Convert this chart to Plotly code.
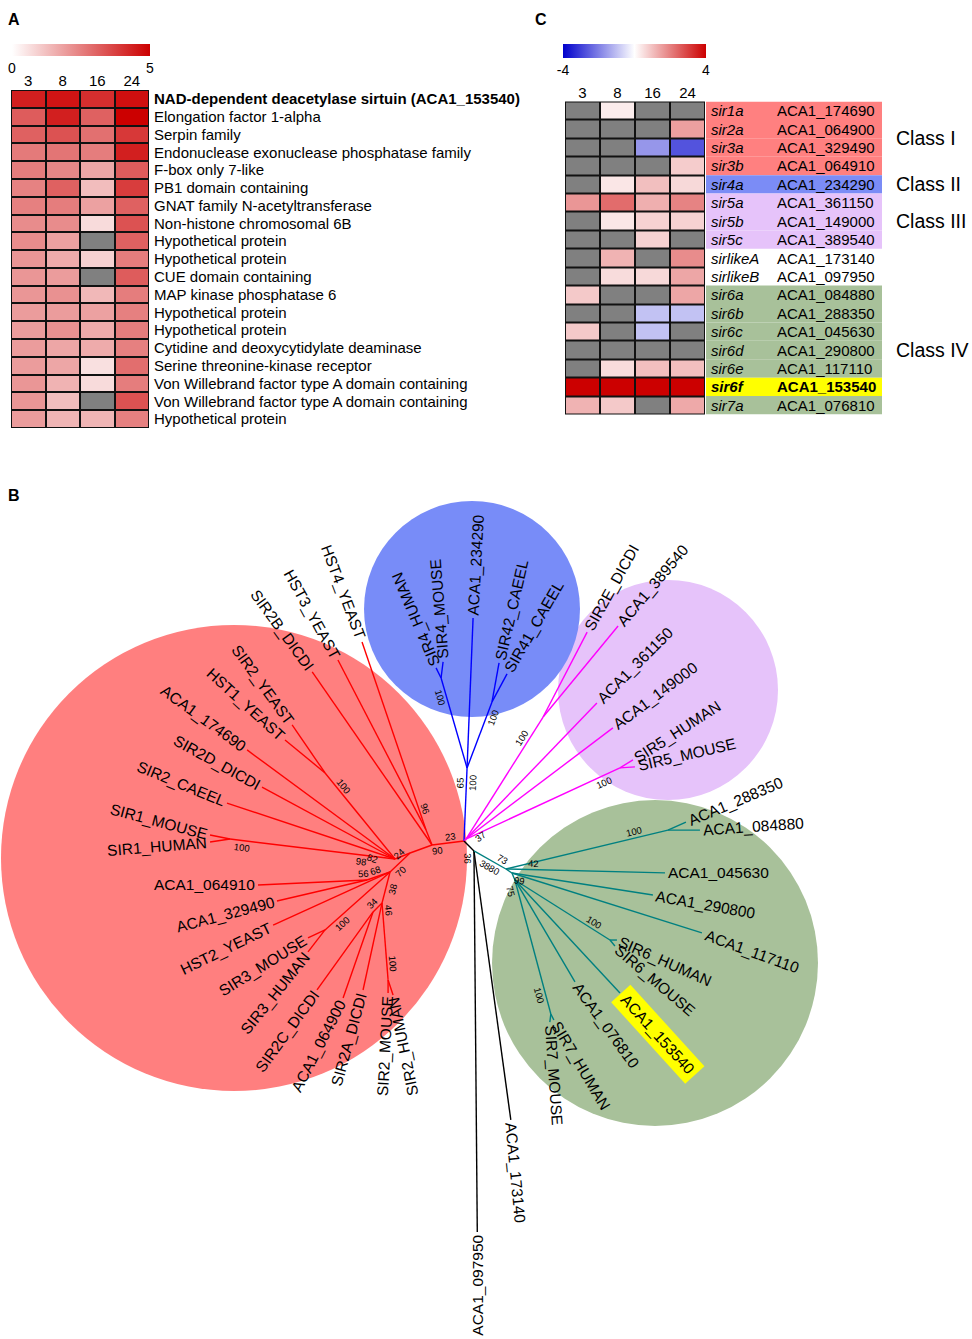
import math
import plotly.graph_objects as go

W, H = 972, 1339
FONT = "Liberation Sans, Arial, sans-serif"

# ---------------- Panel A data ----------------
a_times = ["3", "8", "16", "24"]
a_genes = [
    "NAD-dependent deacetylase sirtuin (ACA1_153540)",
    "Elongation factor 1-alpha",
    "Serpin family",
    "Endonuclease exonuclease phosphatase family",
    "F-box only 7-like",
    "PB1 domain containing",
    "GNAT family N-acetyltransferase",
    "Non-histone chromosomal 6B",
    "Hypothetical protein",
    "Hypothetical protein",
    "CUE domain containing",
    "MAP kinase phosphatase 6",
    "Hypothetical protein",
    "Hypothetical protein",
    "Cytidine and deoxycytidylate deaminase",
    "Serine threonine-kinase receptor",
    "Von Willebrand factor type A domain containing",
    "Von Willebrand factor type A domain containing",
    "Hypothetical protein",
]
a_bold_row = 0
a_values = [
    [4.4, 4.6, 4.1, 4.7],
    [3.2, 4.4, 3.1, 5.0],
    [3.1, 3.4, 2.8, 3.9],
    [2.6, 2.7, 2.55, 4.4],
    [2.55, 2.35, 1.75, 3.2],
    [2.45, 3.1, 1.3, 3.8],
    [2.5, 2.55, 1.85, 3.1],
    [2.25, 2.25, 0.7, 3.4],
    [2.25, 1.85, None, 3.1],
    [2.05, 1.65, 0.9, 2.55],
    [2.05, 1.95, None, 3.2],
    [2.05, 2.15, 1.4, 2.55],
    [1.95, 1.95, 1.85, 2.5],
    [1.95, 2.15, 1.65, 2.55],
    [1.95, 1.75, 1.65, 2.5],
    [1.95, 1.75, 0.6, 2.85],
    [2.05, 1.5, 0.7, 2.55],
    [2.05, 1.3, None, 3.4],
    [1.95, 1.45, 1.45, 2.5],
]
a_range = [0, 5]

# ---------------- Panel C data ----------------
c_times = ["3", "8", "16", "24"]
c_genes = ["sir1a", "sir2a", "sir3a", "sir3b", "sir4a", "sir5a", "sir5b", "sir5c",
           "sirlikeA", "sirlikeB", "sir6a", "sir6b", "sir6c", "sir6d", "sir6e", "sir6f", "sir7a"]
c_ids = ["ACA1_174690", "ACA1_064900", "ACA1_329490", "ACA1_064910", "ACA1_234290",
         "ACA1_361150", "ACA1_149000", "ACA1_389540", "ACA1_173140", "ACA1_097950",
         "ACA1_084880", "ACA1_288350", "ACA1_045630", "ACA1_290800", "ACA1_117110",
         "ACA1_153540", "ACA1_076810"]
c_classes = ["Class I"] * 4 + ["Class II"] + ["Class III"] * 3 + [""] * 2 + ["Class IV"] * 7
c_highlight = "sir6f"
c_values = [
    [None, 0.3, None, None],
    [None, None, None, 1.5],
    [None, None, -1.65, -2.7],
    [None, None, None, 0.8],
    [None, 0.4, 1.0, 0.6],
    [1.65, 2.3, 1.25, 1.95],
    [None, 0.4, 0.7, 0.7],
    [None, None, 0.7, None],
    [None, 1.2, None, 1.8],
    [None, 0.55, 0.6, 1.4],
    [0.85, None, None, 1.4],
    [None, None, -0.95, -0.95],
    [0.85, None, -0.95, None],
    [None, None, None, None],
    [None, 0.55, 1.0, 1.0],
    [4.0, 4.0, 4.0, 4.0],
    [1.2, 0.85, None, 1.35],
]
c_range = [-4, 4]

# ---------------- Panel B data: tree (node, parent, branch length, angle deg) ----------------
tree_edges = [
    ("R0", "O", 32.2, 172.9),
    ("Rh", "R0", 16.2, -111.8),
    ("HST4_YEAST", "Rh", 198.6, -108.8),
    ("HST3_YEAST", "Rh", 191.4, -117.4),
    ("SIR2B_DICDI", "R0", 210.5, -124.7),
    ("R1", "R0", 23.4, 160.0),
    ("Rm", "R1", 16.2, 158.2),
    ("Ny", "Rm", 110.9, -129.1),
    ("SIR2_YEAST", "Ny", 58.2, -124.5),
    ("HST1_YEAST", "Ny", 51.9, -140.5),
    ("ACA1_174690", "Rm", 183.8, -143.6),
    ("SIR2D_DICDI", "Rm", 151.2, -151.6),
    ("SIR2_CAEEL", "Rm", 177.1, -161.6),
    ("N1", "Rm", 166.2, -173.1),
    ("SIR1_MOUSE", "N1", 20.4, -168.7),
    ("SIR1_HUMAN", "N1", 20.2, 171.5),
    ("R2", "R1", 27.6, 136.5),
    ("Na", "R2", 24.4, 160.8),
    ("ACA1_064910", "Na", 109.1, 177.4),
    ("ACA1_329490", "Na", 92.4, 166.9),
    ("HST2_YEAST", "R2", 128.4, 155.6),
    ("N3", "R2", 87.1, 138.3),
    ("SIR3_MOUSE", "N3", 18.8, 154.8),
    ("SIR3_HUMAN", "N3", 27.8, 127.7),
    ("R3", "R2", 32.0, 104.5),
    ("N34", "R3", 12.7, 135.0),
    ("ACA1_064900", "N34", 91.1, 109.2),
    ("SIR2C_DICDI", "N34", 96.0, 125.7),
    ("SIR2A_DICDI", "R3", 89.1, 102.3),
    ("N2", "R3", 77.2, 85.5),
    ("SIR2_MOUSE", "N2", 13.0, 90.0),
    ("SIR2_HUMAN", "N2", 15.8, 71.6),
    ("B1", "O", 73.1, -87.6),
    ("B2", "B1", 93.7, -106.1),
    ("SIR4_HUMAN", "B2", 11.2, -116.6),
    ("SIR4_MOUSE", "B2", 16.1, -82.9),
    ("ACA1_234290", "B1", 150.1, -87.7),
    ("B3", "B1", 70.6, -69.3),
    ("SIR42_CAEEL", "B3", 39.6, -79.8),
    ("SIR41_CAEEL", "B3", 31.8, -61.8),
    ("M0", "O", 2.8, -45.0),
    ("M1", "M0", 144.3, -57.7),
    ("SIR2E_DICDI", "M1", 95.7, -62.6),
    ("ACA1_389540", "M1", 117.9, -50.5),
    ("ACA1_361150", "M0", 188.8, -46.1),
    ("ACA1_149000", "M0", 184.2, -37.1),
    ("M5", "M0", 169.6, -24.8),
    ("SIR5_HUMAN", "M5", 15.3, -31.6),
    ("SIR5_MOUSE", "M5", 15.0, -3.8),
    ("J", "O", 14.1, 45.0),
    ("ACA1_097950", "J", 381.0, 89.5),
    ("ACA1_173140", "J", 271.5, 82.2),
    ("T0", "J", 36.7, 29.4),
    ("N100", "T0", 166.6, -13.5),
    ("ACA1_288350", "N100", 19.7, -24.0),
    ("ACA1_084880", "N100", 32.0, 0.0),
    ("ACA1_045630", "T0", 159.1, 1.4),
    ("T1", "T0", 7.2, 33.7),
    ("ACA1_290800", "T1", 142.7, 8.9),
    ("ACA1_117110", "T1", 199.2, 17.5),
    ("T2", "T1", 7.6, 66.8),
    ("N6", "T2", 112.4, 32.3),
    ("SIR6_HUMAN", "N6", 7.0, 0.0),
    ("SIR6_MOUSE", "N6", 7.8, 50.2),
    ("ACA1_153540", "T2", 154.3, 47.1),
    ("ACA1_076810", "T2", 118.3, 59.5),
    ("N7", "T2", 138.8, 75.0),
    ("SIR7_HUMAN", "N7", 6.7, 63.4),
    ("SIR7_MOUSE", "N7", 8.1, 97.1),
]
# leaf label direction (outward angle, label reads toward the tip)
leaf_labels = {
    "HST4_YEAST": (-110.7, True), "HST3_YEAST": (-118.9, True), "SIR2B_DICDI": (-126, True),
    "SIR2_YEAST": (-126, True), "HST1_YEAST": (-137.8, True), "ACA1_174690": (-144, True),
    "SIR2D_DICDI": (-151, True), "SIR2_CAEEL": (-157.5, True), "SIR1_MOUSE": (-165, True),
    "SIR1_HUMAN": (175.4, True), "ACA1_064910": (180, True), "ACA1_329490": (165.4, True),
    "HST2_YEAST": (154, True), "SIR3_MOUSE": (148, True), "SIR3_HUMAN": (129, True),
    "SIR2C_DICDI": (126, True), "ACA1_064900": (117, True), "SIR2A_DICDI": (105.5, True),
    "SIR2_MOUSE": (93, True), "SIR2_HUMAN": (78.5, True),
    "SIR4_HUMAN": (-113, False), "SIR4_MOUSE": (-94.6, False), "ACA1_234290": (-87, False),
    "SIR42_CAEEL": (-77, False), "SIR41_CAEEL": (-60, False),
    "SIR2E_DICDI": (-61, False), "ACA1_389540": (-50, False), "ACA1_361150": (-45, False),
    "ACA1_149000": (-36.8, False), "SIR5_HUMAN": (-33, False), "SIR5_MOUSE": (-13, False),
    "ACA1_288350": (-23, False), "ACA1_084880": (-4, False), "ACA1_045630": (0, False),
    "ACA1_290800": (10, False), "ACA1_117110": (20, False), "SIR6_HUMAN": (24, False),
    "SIR6_MOUSE": (40.5, False), "ACA1_153540": (47.7, False), "ACA1_076810": (54, False),
    "SIR7_HUMAN": (59.4, False), "SIR7_MOUSE": (86, False),
    "ACA1_173140": (84.5, False), "ACA1_097950": (90, True),
}
tree_highlight = "ACA1_153540"
# bootstrap support (node of edge, value, position along edge, side)
bootstraps = [
    ("N6", "100", 0.8, 1), ("N100", "100", 0.8, 1), ("N7", "100", 0.85, -1),
    ("B2", "100", 0.8, 1), ("B3", "100", 0.8, -1), ("B1", "65", 0.8, 1), ("B1", "100", 0.8, -1),
    ("M1", "100", 0.8, 1), ("M5", "100", 0.88, -1), ("N1", "100", 0.92, 1),
    ("Ny", "100", 0.8, -1), ("N3", "100", 0.8, 1), ("N2", "100", 0.8, 1),
    ("HST4_YEAST", "96", 0.1, -1), ("T0", "73", 0.8, 1), ("T0", "3880", 0.6, -1),
    ("ACA1_045630", "42", 0.17, 1), ("ACA1_290800", "99", 0.06, -1), ("N7", "75", 0.07, -1),
    ("ACA1_149000", "37", 0.07, -1), ("ACA1_097950", "36", 0.02, -1),
    ("R0", "23", 0.4, -1), ("R0", "90", 0.85, 1), ("N1", "98", 0.2, 1),
    ("SIR2_CAEEL", "82", 0.12, 1), ("ACA1_064910", "56", 0.03, -1), ("Na", "68", 0.55, -1),
    ("R2", "24", 0.3, -1), ("R2", "70", 0.7, 1), ("R3", "38", 0.5, 1),
    ("N2", "46", 0.1, 1), ("N34", "34", 0.6, -1),
]

# ---------------- styles ----------------
GRAY = "#808080"
A_SCALE = [[0, "#ffffff"], [1, "#cc0000"]]
C_SCALE = [[0, "#0000cc"], [0.5, "#ffffff"], [1, "#cc0000"]]
CLASS_COLORS = {"Class I": "#ff8080", "Class II": "#7b8cf6", "Class III": "#e6c3fa",
                "Class IV": "#a8c19a", "": "rgba(0,0,0,0)"}
HIGHLIGHT = "#ffff00"
CLADE_ROOTS = {"R0": "#ff0000", "B1": "#0000ff", "M0": "#ff00ff", "T0": "#008080"}
TREE_ORIGIN = (464, 841)
CLADE_DISCS = [  # (cx, cy, r, color) decorative clade background discs
    (234, 858, 233, "#ff7f7f"),
    (668, 690, 110, "#e6c3fa"),
    (655, 963, 163, "#a8c19a"),
    (472, 609, 108, "#788cf8"),
]

ARIAL_W = {c: 667 for c in "ABEKPSVXY"}
ARIAL_W.update({c: 722 for c in "CDHNRUw"})
ARIAL_W.update({"F": 611, "T": 611, "Z": 611, "G": 778, "O": 778, "Q": 778, "I": 278,
                "J": 500, "L": 556, "M": 833, "W": 944, "_": 556})


def text_w(s, size):
    return sum(ARIAL_W.get(ch, 556) for ch in s) / 1000 * size


def px_x(x):
    return x / W


def px_y(y):
    return 1 - y / H


fig = go.Figure()

# ---------- Panel A heatmap ----------
na = len(a_genes)
a_mask = [[1 if v is None else None for v in row] for row in a_values]
fig.add_trace(go.Heatmap(z=a_mask, x=list(range(4)), y=list(range(na)), zmin=0, zmax=1,
                         colorscale=[[0, GRAY], [1, GRAY]], showscale=False, xgap=2, ygap=2,
                         hoverinfo="skip", xaxis="x", yaxis="y"))
fig.add_trace(go.Heatmap(z=a_values, x=list(range(4)), y=list(range(na)), zmin=a_range[0], zmax=a_range[1],
                         colorscale=A_SCALE, xgap=2, ygap=2, xaxis="x", yaxis="y",
                         colorbar=dict(orientation="h", x=px_x(12), xanchor="left", y=px_y(44), yanchor="top",
                                       lenmode="pixels", len=138, thickness=12, xpad=0, ypad=0,
                                       outlinewidth=0, tickvals=a_range, ticktext=[str(v) for v in a_range],
                                       ticks="", tickfont=dict(size=14, family=FONT, color="black"))))

# ---------- Panel C heatmap ----------
nc = len(c_genes)
c_mask = [[1 if v is None else None for v in row] for row in c_values]
fig.add_trace(go.Heatmap(z=c_mask, x=list(range(4)), y=list(range(nc)), zmin=0, zmax=1,
                         colorscale=[[0, GRAY], [1, GRAY]], showscale=False, xgap=2, ygap=2,
                         hoverinfo="skip", xaxis="x2", yaxis="y2"))
fig.add_trace(go.Heatmap(z=c_values, x=list(range(4)), y=list(range(nc)), zmin=c_range[0], zmax=c_range[1],
                         colorscale=C_SCALE, xgap=2, ygap=2, xaxis="x2", yaxis="y2",
                         colorbar=dict(orientation="h", x=px_x(563), xanchor="left", y=px_y(44), yanchor="top",
                                       lenmode="pixels", len=143, thickness=14, xpad=0, ypad=0,
                                       outlinewidth=0, tickvals=c_range, ticktext=[str(v) for v in c_range],
                                       ticks="", tickfont=dict(size=14, family=FONT, color="black"))))

shapes = []
annotations = []
for xr, yr in (("x", "y"), ("x2", "y2")):
    shapes.append(dict(type="rect", xref=f"{xr} domain", yref=f"{yr} domain", x0=0, x1=1, y0=0, y1=1,
                       fillcolor="#111111", line=dict(width=0), layer="below"))

# C label boxes and texts
for i, (g, gid, cls) in enumerate(zip(c_genes, c_ids, c_classes)):
    col = HIGHLIGHT if g == c_highlight else CLASS_COLORS[cls]
    shapes.append(dict(type="rect", xref="paper", yref="y2", x0=px_x(706), x1=px_x(882),
                       y0=i - 0.5, y1=i + 0.5, fillcolor=col, line=dict(width=0), layer="below"))
    b0, b1 = ("<b>", "</b>") if g == c_highlight else ("", "")
    annotations.append(dict(xref="paper", yref="y2", x=px_x(709), y=i, xanchor="left", yanchor="middle",
                            text=f"{b0}<i>{g}</i>{b1}", showarrow=False,
                            font=dict(size=15, family=FONT, color="black")))
    annotations.append(dict(xref="paper", yref="y2", x=px_x(775), y=i, xanchor="left", yanchor="middle",
                            text=f"{b0}{gid}{b1}", showarrow=False,
                            font=dict(size=15, family=FONT, color="black")))
for cls in dict.fromkeys(c_classes):
    if not cls:
        continue
    rows = [i for i, c in enumerate(c_classes) if c == cls]
    annotations.append(dict(xref="paper", yref="y2", x=px_x(894), y=sum(rows) / len(rows),
                            xanchor="left", yanchor="middle", text=cls, showarrow=False,
                            font=dict(size=19.5, family=FONT, color="black")))

# ---------- Panel B tree ----------
pos = {"O": TREE_ORIGIN}
parent_of = {}
angle_of = {}
color_of = {"O": "#000000"}
for node, par, L, ang in tree_edges:
    px, py = pos[par]
    a = math.radians(ang)
    pos[node] = (px + L * math.cos(a), py + L * math.sin(a))
    parent_of[node] = par
    angle_of[node] = ang
    color_of[node] = CLADE_ROOTS.get(node, color_of[par])

for cx, cy, r, col in CLADE_DISCS:
    shapes.append(dict(type="circle", xref="x3", yref="y3", x0=cx - r, x1=cx + r, y0=cy - r, y1=cy + r,
                       fillcolor=col, line=dict(width=0), layer="below"))

segs = {}
for node, par, L, ang in tree_edges:
    c = color_of[node]
    xs, ys = segs.setdefault(c, ([], []))
    xs += [pos[par][0], pos[node][0], None]
    ys += [pos[par][1], pos[node][1], None]
for c, (xs, ys) in segs.items():
    fig.add_trace(go.Scatter(x=xs, y=ys, mode="lines", line=dict(color=c, width=1.4),
                             hoverinfo="skip", showlegend=False, xaxis="x3", yaxis="y3"))

LEAF_FS = 15.5
for name, (ang, inward) in leaf_labels.items():
    x, y = pos[name]
    hl = name == tree_highlight
    pad = 4 if hl else 1
    w = text_w(name, LEAF_FS) + 2 * pad
    r = 2 + w / 2
    a = math.radians(ang)
    cx, cy = x + r * math.cos(a), y + r * math.sin(a)
    ta = ang - 180 if inward else ang
    while ta > 180:
        ta -= 360
    while ta < -180:
        ta += 360
    ann = dict(xref="x3", yref="y3", x=cx, y=cy, xanchor="center", yanchor="middle", text=name,
               textangle=ta, showarrow=False, borderpad=pad,
               font=dict(size=LEAF_FS, family=FONT, color="black"))
    if hl:
        ann["bgcolor"] = HIGHLIGHT
    annotations.append(ann)

for node, val, frac, side in bootstraps:
    par = parent_of[node]
    (x0, y0), (x1, y1) = pos[par], pos[node]
    a = math.radians(angle_of[node])
    c, s = math.cos(a), math.sin(a)
    bx = x0 + frac * (x1 - x0) + side * 6.5 * s
    by = y0 + frac * (y1 - y0) - side * 6.5 * c
    ta = angle_of[node]
    while ta > 90:
        ta -= 180
    while ta <= -90:
        ta += 180
    annotations.append(dict(xref="x3", yref="y3", x=bx, y=by, xanchor="center", yanchor="middle",
                            text=val, textangle=ta, showarrow=False,
                            font=dict(size=9.5, family=FONT, color="black")))

# panel letters
for letter, lx, ly in (("A", 6, 9), ("B", 6, 485), ("C", 533, 9)):
    annotations.append(dict(xref="paper", yref="paper", x=px_x(lx), y=px_y(ly), xanchor="left", yanchor="top",
                            text=f"<b>{letter}</b>", showarrow=False,
                            font=dict(size=16, family=FONT, color="black")))

axis_common = dict(showgrid=False, zeroline=False, ticks="", fixedrange=True, showline=False)
fig.update_layout(
    width=W, height=H, autosize=False, margin=dict(l=0, r=0, t=0, b=0),
    paper_bgcolor="white", plot_bgcolor="rgba(0,0,0,0)", showlegend=False,
    font=dict(family=FONT, color="black"),
    xaxis=dict(domain=[px_x(11), px_x(149)], range=[-0.5, 3.5], side="top", anchor="y",
               tickvals=list(range(4)), ticktext=a_times, tickfont=dict(size=15), **axis_common),
    yaxis=dict(domain=[px_y(428), px_y(90)], range=[na - 0.5, -0.5], side="right", anchor="x",
               tickvals=list(range(na)),
               ticktext=[f"<b>{g}</b>" if i == a_bold_row else g for i, g in enumerate(a_genes)],
               tickfont=dict(size=15), ticklabelstandoff=4, **axis_common),
    xaxis2=dict(domain=[px_x(565), px_x(705)], range=[-0.5, 3.5], side="top", anchor="y2",
                tickvals=list(range(4)), ticktext=c_times, tickfont=dict(size=15), **axis_common),
    yaxis2=dict(domain=[px_y(414.5), px_y(101.5)], range=[nc - 0.5, -0.5], anchor="x2",
                showticklabels=False, **axis_common),
    xaxis3=dict(domain=[0, 1], range=[0, W], anchor="y3", visible=False, **axis_common),
    yaxis3=dict(domain=[0, px_y(480)], range=[H, 480], anchor="x3", visible=False, **axis_common),
    shapes=shapes, annotations=annotations,
)

fig.write_html("out.html", config={"displayModeBar": False},
               post_script="document.body.style.margin='0';document.body.style.padding='0';")
